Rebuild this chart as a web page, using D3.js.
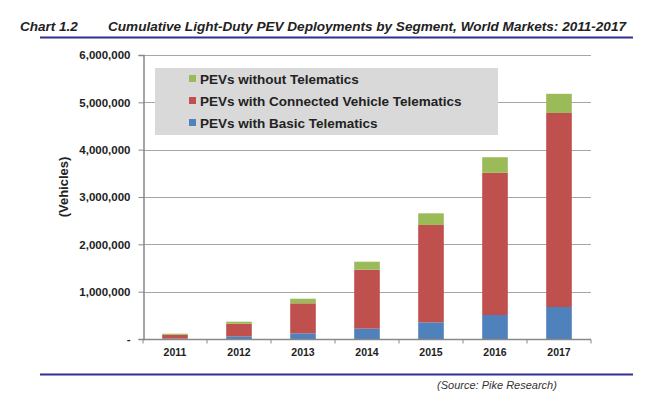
<!DOCTYPE html>
<html><head><meta charset="utf-8">
<script src="https://cdnjs.cloudflare.com/ajax/libs/d3/7.8.5/d3.min.js"></script>
<style>body{margin:0;background:#fff}svg{display:block}text{font-family:Arial,"Liberation Sans",sans-serif}</style>
</head><body><svg id="c" width="650" height="408"></svg>
<script>
const years = ["2011","2012","2013","2014","2015","2016","2017"];
const basicTelematics = [8000, 57000, 120000, 218000, 352000, 507000, 676000];
const connectedTelematics = [82000, 266000, 634000, 1246000, 2057000, 3003000, 4099000];
const withoutTelematics = [22000, 43000, 97000, 169000, 246000, 330000, 405000];
const seriesNames = ["PEVs with Basic Telematics","PEVs with Connected Vehicle Telematics","PEVs without Telematics"];
const seriesColors = ["#4f81bd","#c0504d","#9bbb59"];
const yTicks = [0,1000000,2000000,3000000,4000000,5000000,6000000];

const svg = d3.select("#c");
const m = {l:143, r:591, t:55, b:339};
const x = d3.scaleBand().domain(years).range([m.l, m.r]).paddingInner(0.6).paddingOuter(0.3);
const xb = d3.scaleBand().domain(years).range([m.l, m.r]);
const y = d3.scaleLinear().domain([0,6000000]).range([m.b, m.t]);

// title
svg.append("text").attr("x",20).attr("y",30.5).attr("font-size",13.5).attr("font-weight","bold").attr("font-style","italic").attr("fill","#222").text("Chart 1.2");
svg.append("text").attr("x",108).attr("y",30.5).attr("font-size",13.5).attr("font-weight","bold").attr("font-style","italic").attr("fill","#222")
  .attr("textLength",518).attr("lengthAdjust","spacingAndGlyphs")
  .text("Cumulative Light-Duty PEV Deployments by Segment, World Markets: 2011-2017");
svg.append("line").attr("x1",40).attr("x2",633).attr("y1",37.5).attr("y2",37.5).attr("stroke","#2e3192").attr("stroke-width",2);
svg.append("line").attr("x1",40).attr("x2",633).attr("y1",374.5).attr("y2",374.5).attr("stroke","#2e3192").attr("stroke-width",2);
svg.append("text").attr("x",497).attr("y",389).attr("text-anchor","middle").attr("font-size",11).attr("font-style","italic").attr("fill","#333").text("(Source: Pike Research)");

// gridlines
svg.append("g").selectAll("line").data(yTicks.slice(1)).join("line")
  .attr("x1",m.l).attr("x2",m.r).attr("y1",d=>Math.round(y(d))+0.5).attr("y2",d=>Math.round(y(d))+0.5)
  .attr("stroke","#a6a6a6").attr("stroke-width",1);

// bars
const data = years.map((yr,i)=>({year:yr, basic:basicTelematics[i], connected:connectedTelematics[i], without:withoutTelematics[i]}));
const stack = d3.stack().keys(["basic","connected","without"])(data);
svg.append("g").selectAll("g").data(stack).join("g").attr("fill",(d,i)=>seriesColors[i])
  .selectAll("rect").data(d=>d).join("rect")
  .attr("x",d=>x(d.data.year)).attr("width",x.bandwidth())
  .attr("y",d=>y(d[1])).attr("height",d=>y(d[0])-y(d[1]));

// y axis
const yAxis = d3.axisLeft(y).tickValues(yTicks).tickSize(5).tickPadding(8)
  .tickFormat(d=> d===0 ? "-" : d3.format(",")(d));
const ga = svg.append("g").attr("transform",`translate(${m.l+0.5},0)`).call(yAxis);
ga.select(".domain").attr("stroke","#888").attr("stroke-width",1.5);
ga.selectAll(".tick line").attr("stroke","#888");
ga.selectAll(".tick text").attr("font-size",11.5).attr("font-weight","bold").attr("fill","#222").attr("font-family","Arial, 'Liberation Sans', sans-serif");

// x axis
const gx = svg.append("g").attr("transform",`translate(0,${m.b+0.5})`);
gx.append("line").attr("x1",m.l).attr("x2",m.r).attr("stroke","#888").attr("stroke-width",1.5);
const bounds = years.map(yr=>xb(yr)).concat([m.r]);
gx.selectAll("line.t").data(bounds).join("line").attr("class","t")
  .attr("x1",d=>d).attr("x2",d=>d).attr("y1",0).attr("y2",4).attr("stroke","#888");
gx.selectAll("text").data(years).join("text")
  .attr("x",d=>xb(d)+xb.bandwidth()/2).attr("y",16.5).attr("text-anchor","middle")
  .attr("font-size",10.5).attr("font-weight","bold").attr("fill","#222").text(d=>d);

// y label
svg.append("text").attr("transform","translate(68,187) rotate(-90)").attr("text-anchor","middle")
  .attr("font-size",13).attr("font-weight","bold").attr("fill","#222").text("(Vehicles)");

// legend
const lg = svg.append("g");
lg.append("rect").attr("x",155).attr("y",68).attr("width",343).attr("height",67).attr("fill","#d9d9d9");
const legendOrder = [2,1,0];
lg.selectAll("g").data(legendOrder).join("g").attr("transform",(d,i)=>`translate(189,${79+i*22})`)
  .each(function(d){
    const g = d3.select(this);
    g.append("rect").attr("x",0).attr("y",-4).attr("width",7).attr("height",7).attr("fill",seriesColors[d]);
    g.append("text").attr("x",11).attr("y",5).attr("font-size",13.5).attr("font-weight","bold").attr("fill","#222").text(seriesNames[d]);
  });
</script></body></html>
